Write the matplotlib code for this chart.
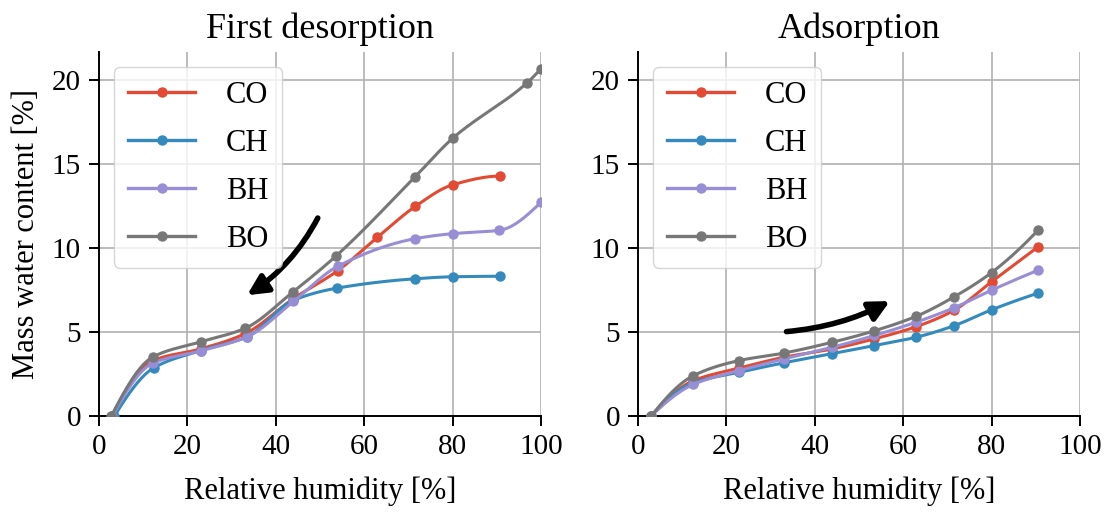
import numpy as np
import matplotlib.pyplot as plt

plt.rcParams['font.family'] = ['Liberation Serif', 'DejaVu Serif']

# moisture sorption data, relative humidity [%] vs mass water content [%]
series = ['CO', 'CH', 'BH', 'BO']
colors = ['#E24A33', '#348ABD', '#988ED5', '#777777']

# first desorption
des_rh_CO = [3, 12.2, 23, 33, 44, 54, 63, 71.6, 80, 90.7]
des_mc_CO = [0, 3.3, 4.0, 4.9, 7.0, 8.66, 10.65, 12.5, 13.78, 14.3]
des_rh_CH = [3.5, 12.4, 23, 33.5, 44, 53.8, 71.5, 80, 90.8]
des_mc_CH = [0, 2.87, 3.9, 4.72, 6.9, 7.62, 8.18, 8.3, 8.33]
des_rh_BH = [3, 12.2, 23, 33.6, 44, 54, 71.5, 80, 90.6, 100]
des_mc_BH = [0, 3.15, 3.88, 4.73, 6.83, 8.92, 10.57, 10.87, 11.07, 12.74]
des_rh_BO = [2.8, 12.2, 23, 33, 44, 53.6, 71.5, 80, 96.9, 100]
des_mc_BO = [0, 3.52, 4.42, 5.22, 7.42, 9.53, 14.25, 16.55, 19.87, 20.7]

# adsorption
ads_rh = [3, 12.5, 22.8, 33, 44, 53.5, 63, 71.5, 80, 90.6]
ads_mc_CO = [0, 2.1, 2.85, 3.5, 4.0, 4.6, 5.33, 6.3, 8.0, 10.1]
ads_mc_CH = [0, 1.98, 2.6, 3.17, 3.72, 4.2, 4.7, 5.38, 6.33, 7.33]
ads_mc_BH = [0, 1.88, 2.7, 3.4, 4.1, 4.8, 5.6, 6.45, 7.5, 8.7]
ads_mc_BO = [0, 2.4, 3.3, 3.75, 4.4, 5.08, 5.95, 7.1, 8.55, 11.1]

desorption = [(des_rh_CO, des_mc_CO), (des_rh_CH, des_mc_CH),
              (des_rh_BH, des_mc_BH), (des_rh_BO, des_mc_BO)]
adsorption = [(ads_rh, ads_mc_CO), (ads_rh, ads_mc_CH),
              (ads_rh, ads_mc_BH), (ads_rh, ads_mc_BO)]


def pchip(x, y, xs):
    # monotone cubic hermite curve through the measured points
    x = np.asarray(x, float)
    y = np.asarray(y, float)
    h = np.diff(x)
    delta = np.diff(y) / h
    n = len(x)
    d = np.zeros(n)
    for k in range(1, n - 1):
        if delta[k - 1] * delta[k] > 0:
            w1 = 2 * h[k] + h[k - 1]
            w2 = h[k] + 2 * h[k - 1]
            d[k] = (w1 + w2) / (w1 / delta[k - 1] + w2 / delta[k])

    def end_slope(h0, h1, d0, d1):
        s = ((2 * h0 + h1) * d0 - h0 * d1) / (h0 + h1)
        if np.sign(s) != np.sign(d0):
            s = 0.0
        elif np.sign(d0) != np.sign(d1) and abs(s) > abs(3 * d0):
            s = 3 * d0
        return s

    d[0] = end_slope(h[0], h[1], delta[0], delta[1])
    d[-1] = end_slope(h[-1], h[-2], delta[-1], delta[-2])
    idx = np.clip(np.searchsorted(x, xs) - 1, 0, n - 2)
    t = (xs - x[idx]) / h[idx]
    h00 = 2 * t**3 - 3 * t**2 + 1
    h10 = t**3 - 2 * t**2 + t
    h01 = -2 * t**3 + 3 * t**2
    h11 = t**3 - t**2
    return (h00 * y[idx] + h10 * h[idx] * d[idx]
            + h01 * y[idx + 1] + h11 * h[idx] * d[idx + 1])


fig = plt.figure(figsize=(11.07, 5.12), dpi=100)
ax1 = fig.add_axes([0.0894, 0.1875, 0.3993, 0.711])
ax2 = fig.add_axes([0.5763, 0.1875, 0.3993, 0.711])

for ax, data, title in [(ax1, desorption, 'First desorption'),
                        (ax2, adsorption, 'Adsorption')]:
    for name, col, (rh, mc) in zip(series, colors, data):
        xs = np.linspace(rh[0], rh[-1], 300)
        ax.plot(xs, pchip(rh, mc, xs), color=col, lw=2.2, zorder=3)
        ax.plot(rh, mc, 'o', color=col, ms=6.5, zorder=3)
        ax.plot([], [], '-o', color=col, lw=2.4, ms=6.5, label=name)
    ax.set_xlim(0, 100)
    ax.set_ylim(0, 21.7)
    ax.set_xticks([0, 20, 40, 60, 80, 100])
    ax.set_yticks([0, 5, 10, 15, 20])
    ax.grid(True, color='#b0b0b0', lw=1.2)
    ax.set_axisbelow(True)
    for s in ['top', 'right']:
        ax.spines[s].set_visible(False)
    for s in ['left', 'bottom']:
        ax.spines[s].set_linewidth(1.4)
    ax.tick_params(labelsize=21, length=7, width=1.4, pad=6)
    ax.set_title(title, fontsize=26, pad=10)
    ax.set_xlabel('Relative humidity [%]', fontsize=22, labelpad=12)
    ax.legend(loc='upper left', fontsize=22, framealpha=0.8,
              edgecolor='#cccccc', labelspacing=0.62, handlelength=2.2,
              handletextpad=1.0, borderpad=0.45, borderaxespad=0.5)

ax1.set_ylabel('Mass water content [%]', fontsize=22, labelpad=8)

ax1.annotate('', xy=(33.5, 7.2), xytext=(49.5, 11.8),
             arrowprops=dict(arrowstyle='-|>', color='black', lw=4,
                             mutation_scale=30, shrinkA=0, shrinkB=0,
                             connectionstyle='arc3,rad=-0.13'))
ax2.annotate('', xy=(57.0, 6.85), xytext=(33.6, 5.03),
             arrowprops=dict(arrowstyle='-|>', color='black', lw=4,
                             mutation_scale=30, shrinkA=0, shrinkB=0,
                             connectionstyle='arc3,rad=0.1'))

fig.savefig('out.png', dpi=100)
